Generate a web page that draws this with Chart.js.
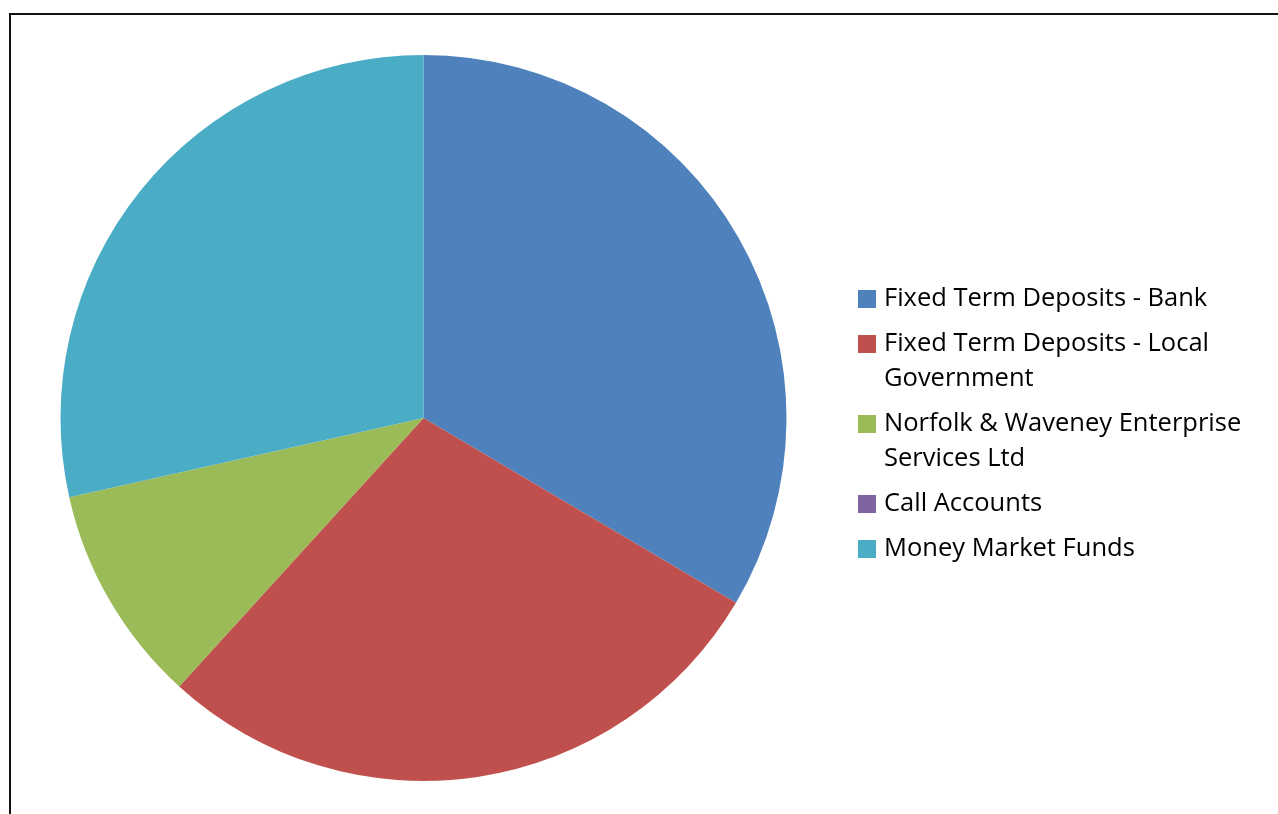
<!DOCTYPE html>
<html>
<head>
<meta charset="utf-8">
<title>Investments by type</title>
<script src="https://cdn.jsdelivr.net/npm/chart.js@4.4.0/dist/chart.umd.min.js"></script>
<style>
  html, body { margin: 0; padding: 0; background: #fff; overflow: hidden; }
  #frame {
    position: absolute; left: 9px; top: 13px;
    width: 1300px; height: 850px;
    border: 2px solid #111; box-sizing: border-box;
  }
  #wrap { position: absolute; left: 0; top: 0; width: 1278px; height: 814px; }
  #legend {
    position: absolute; left: 858px; top: 279px; width: 400px;
    font-family: "Open Sans", "Noto Sans", sans-serif; font-size: 25.5px;
    color: #000; line-height: 35px;
  }
  #legend .item { display: flex; align-items: flex-start; margin-bottom: 10px; }
  #legend .box { flex: 0 0 18px; height: 18px; margin-top: 11px; margin-right: 8px; }
  #legend .txt { width: 374px; white-space: normal; }
</style>
</head>
<body>
<div id="frame"></div>
<div id="wrap"><canvas id="pieChart"></canvas></div>
<div id="legend"></div>
<script>
// investment categories and their share (% of total)
var categories = [
  "Fixed Term Deposits - Bank",
  "Fixed Term Deposits - Local Government",
  "Norfolk & Waveney Enterprise Services Ltd",
  "Call Accounts",
  "Money Market Funds"
];
var shares = [33.5, 28.25, 9.75, 0, 28.5];
var sliceColors = ["#4F81BD", "#C0504D", "#9BBB59", "#8064A2", "#4BACC6"];

function initPieChart() {
  var canvas = document.getElementById("pieChart");

  var pieData = {
    labels: categories,
    datasets: [{
      data: shares,
      backgroundColor: sliceColors,
      borderWidth: 0
    }]
  };

  var chartOptions = {
    responsive: true,
    maintainAspectRatio: false,
    animation: false,
    layout: {
      padding: { left: 60, right: 491, top: 55, bottom: 33 }
    },
    plugins: {
      legend: { display: false },
      tooltip: { enabled: false }
    }
  };

  var pie = new Chart(canvas, {
    type: 'pie',
    data: pieData,
    options: chartOptions
  });

  buildLegend(pie);
}

function buildLegend(chart) {
  var items = Chart.overrides.pie.plugins.legend.labels.generateLabels(chart);
  var html = "";
  for (var i = 0; i < items.length; i++) {
    html += '<div class="item"><span class="box" style="background:' + items[i].fillStyle +
            '"></span><span class="txt">' + items[i].text.replace(/&/g, "&amp;") + '</span></div>';
  }
  document.getElementById("legend").innerHTML = html;
}

initPieChart();
</script>
</body>
</html>
